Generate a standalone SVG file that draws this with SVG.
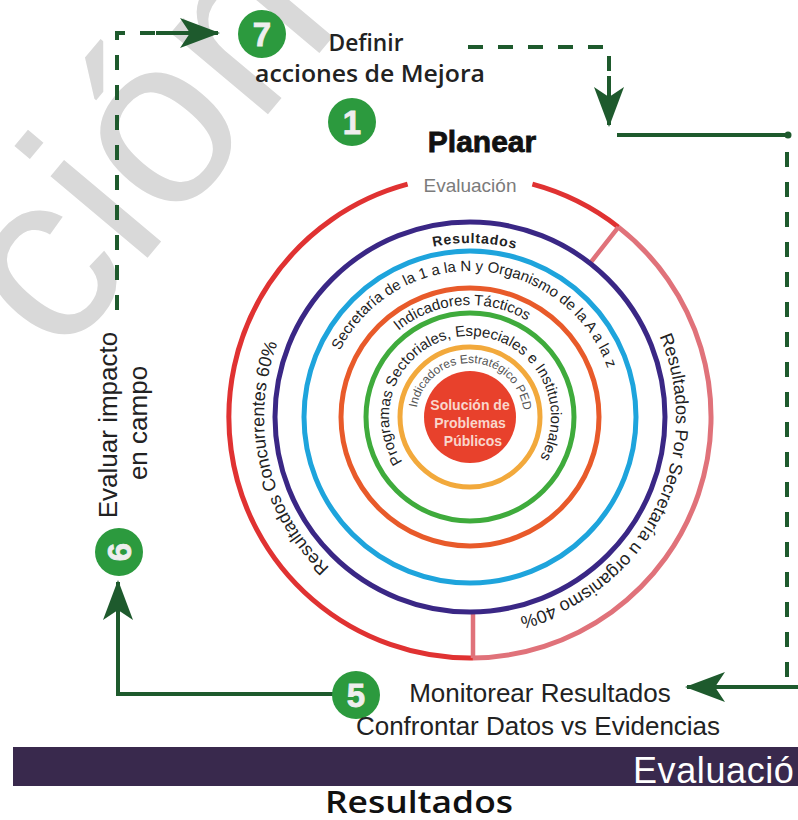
<svg xmlns="http://www.w3.org/2000/svg" width="798" height="820" viewBox="0 0 798 820">
<style>
.conn{fill:none;stroke:#1e5a2d;stroke-width:4}
.dash{stroke-dasharray:15 15}
.badge circle{fill:#2c9a3e}
.badge text{font-family:"Liberation Sans",Arial,sans-serif;font-weight:bold;font-size:33px;fill:#eeeeee;stroke:#eeeeee;stroke-width:0.8;text-anchor:middle}
.lbl{font-family:"Liberation Sans",Arial,sans-serif;fill:#222}
.ring{fill:none;stroke-width:5}
.arct{font-family:"Liberation Sans",Arial,sans-serif;fill:#222;text-anchor:middle}
</style>
<defs>
<marker id="ah" viewBox="0 0 40 30" markerWidth="40" markerHeight="30" refX="38" refY="15" orient="auto" markerUnits="userSpaceOnUse"><path d="M0,0 L40,15 L0,30 L10,15 Z" fill="#1e5a2d"/></marker>
<path id="p206" d="M470,623 A206,206 0 1,1 470,211 A206,206 0 1,1 470,623"/>
<path id="p174" d="M470,591 A174,174 0 1,1 470,243 A174,174 0 1,1 470,591"/>
<path id="p146" d="M470,563 A146,146 0 1,1 470,271 A146,146 0 1,1 470,563"/>
<path id="p112" d="M470,529 A112,112 0 1,1 470,305 A112,112 0 1,1 470,529"/>
<path id="p81" d="M470,498 A81,81 0 1,1 470,336 A81,81 0 1,1 470,498"/>
<path id="p54" d="M470,471 A54,54 0 1,1 470,363 A54,54 0 1,1 470,471"/>
</defs>
<rect width="798" height="820" fill="#fff"/>
<text x="60" y="362" transform="rotate(-50 60 362)" font-size="240" fill="#d9d9d9" font-family="Liberation Sans, Arial, sans-serif">ción</text>

<g id="connectors">
<path class="conn dash" d="M117,310 V33 H160"/>
<path class="conn" d="M156,33 H218" marker-end="url(#ah)"/>
<path class="conn dash" d="M468,47 H609 V78"/>
<path class="conn" d="M609,76 V125" marker-end="url(#ah)"/>
<path class="conn" d="M617,135 H790"/>
<circle cx="788" cy="135" r="3.5" fill="#1e5a2d"/>
<path class="conn dash" d="M787,152 V690"/>
<path class="conn" d="M798,687 H687" marker-end="url(#ah)"/>
<path class="conn" d="M334,694 H118 V582" marker-end="url(#ah)"/>
</g>

<g id="target">
<path class="ring" stroke="#e03232" stroke-width="4.5" d="M532.4,184.2 A241,241 0 0,1 618.4,227.1"/>
<path class="ring" stroke="#e0727a" stroke-width="4.5" d="M618.4,227.1 A241,241 0 0,1 472.9,658"/>
<path class="ring" stroke="#e03232" stroke-width="4.5" d="M472.9,658 A241,241 0 0,1 407.6,184.2"/>
<path stroke="#e0727a" stroke-width="4.5" d="M618.4,227.1 L590,263.3 M473,612 V658"/>
<text x="470" y="192" font-size="19" text-anchor="middle" font-family="Liberation Sans, Arial, sans-serif" fill="#7b7b7b">Evaluación</text>
<circle class="ring" cx="470" cy="417" r="195" stroke="#3a2785"/>
<circle class="ring" cx="470" cy="417" r="166" stroke="#1ea4dc"/>
<circle class="ring" cx="470" cy="417" r="129" stroke="#e85a2a"/>
<circle class="ring" cx="470" cy="417" r="104" stroke="#3fab3c"/>
<circle class="ring" cx="470" cy="417" r="70" stroke="#f2a93c"/>
<circle cx="470" cy="417" r="46" fill="#e8412c"/>
<text class="arct" font-size="18"><textPath href="#p206" startOffset="21.39%">Resultados Concurrentes 60%</textPath></text>
<text class="arct" font-size="18"><textPath href="#p206" startOffset="82.36%">Resultados Por Secretaría u organismo 40%</textPath></text>
<text class="arct" font-size="14" font-weight="bold" letter-spacing="0.8"><textPath href="#p174" startOffset="50.44%">Resultados</textPath></text>
<text class="arct" font-size="15"><textPath href="#p146" startOffset="51.04%">Secretaría de la 1 a la N y Organismo de la A a la z</textPath></text>
<text class="arct" font-size="15"><textPath href="#p112" startOffset="48.75%">Indicadores Tácticos</textPath></text>
<text class="arct" font-size="15"><textPath href="#p81" startOffset="49.53%">Programas Sectoriales, Especiales e Institucionales</textPath></text>
<text class="arct" font-size="12" style="fill:#555"><textPath href="#p54" startOffset="50.42%">Indicadores Estratégico PED</textPath></text>
<g font-family="Liberation Sans, Arial, sans-serif" font-weight="bold" font-size="14" fill="#f9d6cc" text-anchor="middle">
<text x="470" y="410">Solución de</text>
<text x="470" y="428">Problemas</text>
<text x="473" y="446">Públicos</text>
</g>
</g>

<g id="step7" class="badge"><circle cx="262" cy="34" r="24"/><text x="262" y="46">7</text></g>
<g id="definir">
<text class="lbl" x="366" y="51" font-size="23" text-anchor="middle" font-weight="600" textLength="75" lengthAdjust="spacingAndGlyphs" style="font-family:'Open Sans',sans-serif">Definir</text>
<text class="lbl" x="370" y="82" font-size="23" text-anchor="middle" font-weight="600" textLength="230" lengthAdjust="spacingAndGlyphs" style="font-family:'Open Sans',sans-serif">acciones de Mejora</text>
</g>
<g id="step1" class="badge"><circle cx="352" cy="122" r="24"/><text x="352" y="134">1</text></g>
<g id="planear"><text class="lbl" x="482" y="152" font-size="30" font-weight="bold" text-anchor="middle" stroke="#111" stroke-width="0.8" style="fill:#111">Planear</text></g>

<g id="step5" class="badge"><circle cx="356" cy="695" r="24"/><text x="356" y="707">5</text></g>
<g id="monitorear">
<text class="lbl" x="540" y="702" font-size="26" text-anchor="middle">Monitorear Resultados</text>
<text class="lbl" x="538" y="735" font-size="26" text-anchor="middle">Confrontar Datos vs Evidencias</text>
</g>

<g id="step6" class="badge"><circle cx="119" cy="552" r="24"/><text x="119" y="564" transform="rotate(-90 119 552)">6</text></g>
<g id="evaluar">
<text class="lbl" x="117" y="425" font-size="26" text-anchor="middle" transform="rotate(-90 117 425)">Evaluar impacto</text>
<text class="lbl" x="147" y="423" font-size="26" text-anchor="middle" transform="rotate(-90 147 423)">en campo</text>
</g>
<g id="bar">
<rect x="13" y="747" width="785" height="39" fill="#39294d"/>
<text x="633" y="783" font-size="36" letter-spacing="0.6" fill="#fff" font-family="Liberation Sans, Arial, sans-serif">Evaluació</text>
</g>
<g id="resultados"><text class="lbl" x="419" y="813" font-size="31" text-anchor="middle" font-weight="600" textLength="188" lengthAdjust="spacingAndGlyphs" style="font-family:'Open Sans',sans-serif;fill:#111">Resultados</text></g>
</svg>
